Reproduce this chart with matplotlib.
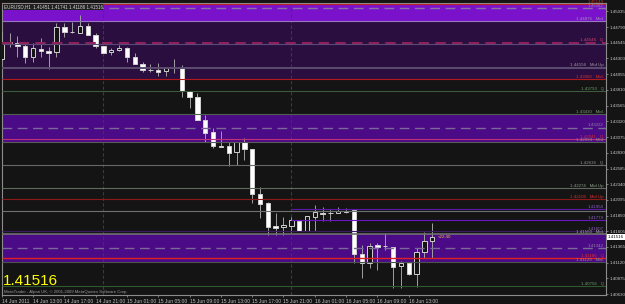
import matplotlib.pyplot as plt
from matplotlib.patches import Rectangle
from matplotlib.transforms import blended_transform_factory

# EURUSD H1, one bar per hour from 14 Jun 2011 09:00
opens = [1.44287, 1.44557, 1.44537, 1.44499, 1.44318, 1.44448, 1.44417, 1.44396,
         1.44791, 1.44717, 1.44702, 1.44806, 1.44666, 1.44495, 1.44396, 1.44432,
         1.44468, 1.44318, 1.44214, 1.44121, 1.44121, 1.44100, 1.44152, 1.44147,
         1.43793, 1.43705, 1.43341, 1.43154, 1.42936, 1.42936, 1.42847, 1.42994,
         1.42885, 1.42184, 1.42048, 1.41690, 1.41669, 1.41694, 1.41772, 1.41616,
         1.41835, 1.41897, 1.41897, 1.41897, 1.41912, 1.41939, 1.41249, 1.41118,
         1.41394, 1.41378, 1.41367, 1.41071, 1.41113, 1.40942, 1.41289, 1.41451]
highs = [1.44717, 1.44692, 1.44650, 1.44537, 1.44537, 1.44615, 1.44484, 1.44858,
         1.44848, 1.44873, 1.44978, 1.44848, 1.44692, 1.44495, 1.44459, 1.44510,
         1.44484, 1.44381, 1.44250, 1.44214, 1.44234, 1.44152, 1.44287, 1.44199,
         1.43793, 1.43758, 1.43419, 1.43212, 1.43175, 1.43003, 1.43003, 1.43066,
         1.42885, 1.42293, 1.42064, 1.41888, 1.41835, 1.41825, 1.41783, 1.41845,
         1.42017, 1.41981, 1.41950, 1.41990, 1.41965, 1.41939, 1.41394, 1.41420,
         1.41420, 1.41576, 1.41367, 1.41149, 1.41129, 1.41342, 1.41601, 1.41741]
lows = [1.44270, 1.44479, 1.44328, 1.44234, 1.44241, 1.44328, 1.44136, 1.44328,
        1.44640, 1.44702, 1.44702, 1.44666, 1.44459, 1.44386, 1.44354, 1.44421,
        1.44250, 1.44214, 1.44094, 1.44094, 1.44027, 1.44027, 1.44069, 1.43705,
        1.43524, 1.43341, 1.43003, 1.42900, 1.42921, 1.42625, 1.42640, 1.42718,
        1.42043, 1.41810, 1.41549, 1.41549, 1.41549, 1.41601, 1.41612, 1.41612,
        1.41616, 1.41772, 1.41772, 1.41888, 1.41888, 1.41118, 1.40884, 1.41031,
        1.41004, 1.41316, 1.40719, 1.40719, 1.40926, 1.40734, 1.41186, 1.41186]
closes = [1.44546, 1.44530, 1.44499, 1.44318, 1.44459, 1.44412, 1.44390, 1.44786,
          1.44717, 1.44708, 1.44806, 1.44666, 1.44499, 1.44390, 1.44432, 1.44468,
          1.44328, 1.44214, 1.44121, 1.44113, 1.44094, 1.44152, 1.44144, 1.43793,
          1.43705, 1.43341, 1.43144, 1.42936, 1.42928, 1.42832, 1.42994, 1.42885,
          1.42184, 1.42028, 1.41679, 1.41654, 1.41705, 1.41783, 1.41616, 1.41845,
          1.41903, 1.41877, 1.41892, 1.41919, 1.41915, 1.41249, 1.41118, 1.41383,
          1.41367, 1.41373, 1.41055, 1.41118, 1.40942, 1.41289, 1.41461, 1.41516]

time_labels = ["14 Jun 2011", "14 Jun 13:00", "14 Jun 17:00", "14 Jun 21:00",
               "15 Jun 01:00", "15 Jun 05:00", "15 Jun 09:00", "15 Jun 13:00",
               "15 Jun 17:00", "15 Jun 21:00", "16 Jun 01:00", "16 Jun 05:00",
               "16 Jun 09:00", "16 Jun 13:00"]
price_ticks = [1.40630, 1.40875, 1.41120, 1.41365, 1.41605, 1.41850, 1.42095,
               1.42340, 1.42585, 1.42830, 1.43075, 1.43320, 1.43565, 1.43810,
               1.44055, 1.44300, 1.44545, 1.44790, 1.45035]
day_marks = [13, 37]

# zones (low, high) and levels drawn by the indicators
zones = [(1.44876, 1.45300), (1.43980, 1.44876), (1.42994, 1.43430), (1.41129, 1.41560)]
levels = [1.45149, 1.45082, 1.44876, 1.44546, 1.44521, 1.44156, 1.43980, 1.43793,
          1.43430, 1.43222, 1.43041, 1.42994, 1.42636, 1.42274, 1.42106, 1.41950,
          1.41916, 1.41779, 1.41607, 1.41560, 1.41342, 1.41186, 1.41129, 1.40756]
level_tags = ["", "", "Mid.", "Q", None, "Mid Up", "Mid.", "Q",
              "Mid.", "", "Q", "Mid.", "Q", "Mid Up", "Mid Up", "",
              None, "", "", "Mid.", "", "Q", "Mid.", "Q"]

BG = '#141414'
FONT = 'Liberation Sans'
plt.rcParams['font.family'] = FONT

fig = plt.figure(figsize=(6.25, 3.04), dpi=100, facecolor=BG)
ax = fig.add_axes([0.0027, 0.028, 0.9669, 0.9632])
ax.set_facecolor(BG)
ax.set_xlim(0, 77.2)
ax.set_ylim(1.40607, 1.45169)

zone_colors = ['#7a12cc', '#2a0e40', '#4b0a86', '#4b0a86']
for (lo, hi), col in zip(zones, zone_colors):
    ax.axhspan(lo, hi, color=col, lw=0, zorder=0)

for d in day_marks:
    ax.axvline(d, color='#3c3c3c', lw=0.8, ls=(0, (3, 2)), zorder=1)

# colour, linestyle, width, first bar, label colour
level_styles = [
    ('#c02020', '-', 0.8, 0, '#d03030'),
    ('#8a70a8', (0, (7, 4)), 1.0, 0, '#9080a8'),
    ('#9a78c0', '-', 0.8, 0, '#a090b8'),
    ('#90205a', (0, (5, 3)), 1.5, 0, '#d04070'),
    ('#5a4a78', '-', 0.8, 0, '#909090'),
    ('#5c4c70', '-', 1.4, 0, '#9a9a9a'),
    ('#b01a1a', '-', 0.8, 0, '#d03030'),
    ('#3c5a3c', '-', 0.8, 0, '#6a9a6a'),
    ('#4f604f', '-', 0.8, 0, '#7a9a7a'),
    ('#7a6a98', (0, (7, 4)), 1.0, 0, '#9080a8'),
    ('#c0307a', '-', 0.8, 0, '#d03030'),
    ('#5a5a5a', '-', 0.8, 0, '#909090'),
    ('#686868', '-', 0.8, 0, '#909090'),
    ('#5f6a5f', '-', 0.8, 0, '#8a9a8a'),
    ('#8a1a1a', '-', 0.8, 0, '#d03030'),
    ('#5a18a8', '-', 0.8, 37, '#8a60c0'),
    ('#707070', '-', 0.8, 0, '#909090'),
    ('#6a16c0', '-', 0.8, 37, '#8a60c0'),
    ('#3a1a62', '-', 0.8, 0, '#8a60c0'),
    ('#707070', '-', 1.2, 0, '#a0a0a0'),
    ('#7a6a98', (0, (7, 4)), 1.0, 0, '#9080a8'),
    ('#e02020', '-', 1.0, 0, '#e03030'),
    ('#505050', '-', 0.8, 0, '#909090'),
    ('#2f5a2f', '-', 0.8, 0, '#6a9a6a'),
]

# candles: bear = white body, bull = hollow
for i, (o, h, l, c) in enumerate(zip(opens, highs, lows, closes)):
    ax.vlines(i, l, h, color='#a0a0a0', lw=0.7, zorder=3)
    bull = c > o
    body_h = max(abs(c - o), 0.00004)
    ax.add_patch(Rectangle((i - 0.28, min(o, c)), 0.56, body_h,
                           facecolor=BG if bull else 'white',
                           edgecolor='#d0d0d0', lw=0.7, zorder=4))

for price, tag, (col, ls, lw, start, tcol) in zip(levels, level_tags, level_styles):
    ax.hlines(price, start, 80, colors=col, linestyles=ls, lw=lw, zorder=5)
    if tag is None:
        continue
    txt = f"{price:.5f}" + (f"   {tag}" if tag else "")
    ax.text(76.9, price + 0.00006, txt, color=tcol, fontsize=3.2,
            ha='right', va='bottom', zorder=6)

# axes styling
for s in ax.spines.values():
    s.set_color('#8c8c8c')
    s.set_linewidth(0.8)

ax.yaxis.tick_right()
ax.set_yticks(price_ticks)
ax.set_yticklabels([f"{p:.5f}" for p in price_ticks])
ax.tick_params(axis='y', colors='#8c8c8c', labelcolor='#c8c8c8',
               labelsize=3.2, length=1.5, width=0.6, pad=1)

ax.set_xticks(range(0, len(opens), 4))
ax.set_xticklabels(time_labels)
ax.tick_params(axis='x', colors='#8c8c8c', labelcolor='#c0c0c0',
               labelsize=3.6, length=1.5, width=0.6, pad=0.8)
for lab in ax.get_xticklabels():
    lab.set_ha('left')

# title with last bar O H L C
ax.text(0.003, 0.994,
        f"EURUSD,H1  {opens[-1]:.5f} {highs[-1]:.5f} {lows[-1]:.5f} {closes[-1]:.5f}",
        transform=ax.transAxes, color='#d8d8d8', fontsize=3.3, ha='left', va='top',
        bbox=dict(facecolor='#202020', edgecolor='none', pad=0.6), zorder=7)

# current price box on the price axis
trans = blended_transform_factory(ax.transAxes, ax.transData)
ax.text(1.003, closes[-1], f"{closes[-1]:.5f}", transform=trans, color='black',
        fontsize=3.2, ha='left', va='center', clip_on=False,
        bbox=dict(facecolor='white', edgecolor='none', pad=0.5), zorder=8)

# time left in bar
ax.text(len(opens) - 0.3, closes[-1], "<22:40", color='#e8c040', fontsize=3.2,
        ha='left', va='center', zorder=7)

# big price and copyright
ax.text(0.002, 0.026, f"{closes[-1]:.5f}", transform=ax.transAxes, color='#ffff00',
        fontsize=11, ha='left', va='bottom', zorder=7)
ax.text(0.003, 0.004, "MetaTrader - Alpari UK, \u00a9 2001-2009 MetaQuotes Software Corp.",
        transform=ax.transAxes, color='#9a9a9a', fontsize=3.1, ha='left',
        va='bottom', zorder=7)

fig.savefig('out.png', dpi=100, facecolor=BG)
